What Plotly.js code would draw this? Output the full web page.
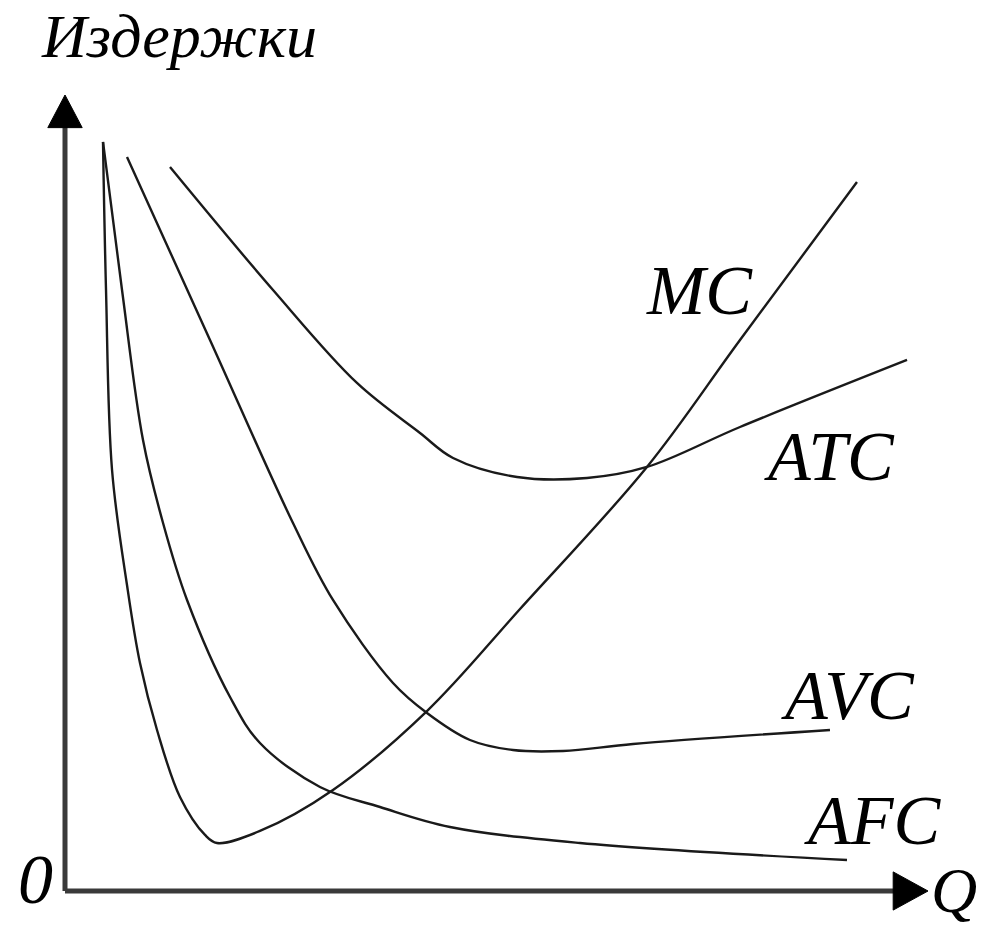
<!DOCTYPE html>
<html>
<head>
<meta charset="utf-8">
<script src="https://cdn.plot.ly/plotly-3.0.1.min.js"></script>
<style>html,body{margin:0;padding:0;background:#fff;}#chart{width:981px;height:927px;}</style>
</head>
<body>
<div id="chart"></div>
<script>
// Quantity (Q) and cost values
const mcQ   = [4.42, 4.77, 5.47, 7.21, 8.72, 10.70, 13.37, 16.28, 17.67, 22.67, 31.16, 42.09, 52.91, 67.67, 78.49, 92.09];
const mcC   = [94.10, 75.50, 52.89, 38.44, 28.64, 20.23, 11.81, 7.04, 6.03, 7.54, 12.69, 22.61, 35.43, 53.27, 69.22, 89.07];

const afcQ  = [4.42, 6.63, 9.07, 11.40, 14.19, 19.19, 22.67, 29.65, 36.63, 44.77, 59.88, 90.93];
const afcC  = [94.10, 75.50, 56.66, 46.23, 36.56, 24.37, 18.59, 13.07, 10.55, 8.04, 6.03, 3.89];

const avcQ  = [7.21, 16.86, 26.51, 31.16, 38.14, 42.09, 47.09, 52.09, 57.91, 66.05, 88.95];
const avcC  = [92.21, 69.22, 46.23, 36.56, 26.13, 22.36, 18.97, 17.71, 17.59, 18.47, 20.23];

const atcQ  = [12.21, 24.19, 33.95, 41.28, 45.12, 52.56, 60.70, 67.67, 78.49, 97.91];
const atcC  = [90.95, 75.50, 63.82, 57.54, 54.40, 52.01, 51.88, 53.27, 58.29, 66.71];

const curveNames = ["MC", "ATC", "AVC", "AFC"];
const yTitle = "Издержки";
const xTitle = "Q";
const originLabel = "0";

const lineStyle = {color: "#1a1a1a", width: 2.4, shape: "spline", smoothing: 1.0};
function curve(x, y, name) {
  return {x: x, y: y, name: name, type: "scatter", mode: "lines", line: lineStyle, hoverinfo: "skip"};
}
const data = [
  curve(mcQ, mcC, curveNames[0]),
  curve(atcQ, atcC, curveNames[1]),
  curve(avcQ, avcC, curveNames[2]),
  curve(afcQ, afcC, curveNames[3])
];

const labelFont = {family: "Liberation Serif, Times New Roman, serif", size: 70, color: "#000", style: "italic"};
function label(text, x, y, size) {
  const f = Object.assign({}, labelFont);
  if (size) f.size = size;
  return {text: text, x: x, y: y, xref: "x", yref: "y", xanchor: "left", yanchor: "middle", showarrow: false, font: f};
}

const axisColor = "#3a3a3a";
const layout = {
  width: 981, height: 927,
  margin: {l: 0, r: 0, t: 0, b: 0},
  paper_bgcolor: "#fff", plot_bgcolor: "#fff",
  showlegend: false,
  xaxis: {range: [-7.558, 106.512], visible: false, fixedrange: true},
  yaxis: {range: [-4.523, 111.935], visible: false, fixedrange: true},
  shapes: [
    {type: "line", x0: 0, y0: 0, x1: 0, y1: 96, xref: "x", yref: "y", line: {color: axisColor, width: 5}},
    {type: "line", x0: 0, y0: 0, x1: 96.5, y1: 0, xref: "x", yref: "y", line: {color: axisColor, width: 5}},
    {type: "path", path: "M -2.0 95.9 L 0 100.0 L 2.0 95.9 Z", xref: "x", yref: "y", fillcolor: "#000", line: {color: "#000", width: 1}},
    {type: "path", path: "M 96.3 2.4 L 100.35 0 L 96.3 -2.4 Z", xref: "x", yref: "y", fillcolor: "#000", line: {color: "#000", width: 1}}
  ],
  annotations: [
    label(yTitle, -3.0, 107.4, 62),
    label(curveNames[0], 67.3, 75.5),
    label(curveNames[1], 81.1, 54.6),
    label(curveNames[2], 83.0, 24.6),
    label(curveNames[3], 85.7, 8.9),
    label(originLabel, -5.7, 1.4),
    label(xTitle, 100.5, 0.1, 64)
  ]
};

Plotly.newPlot("chart", data, layout, {displayModeBar: false, staticPlot: true});
</script>
</body>
</html>
